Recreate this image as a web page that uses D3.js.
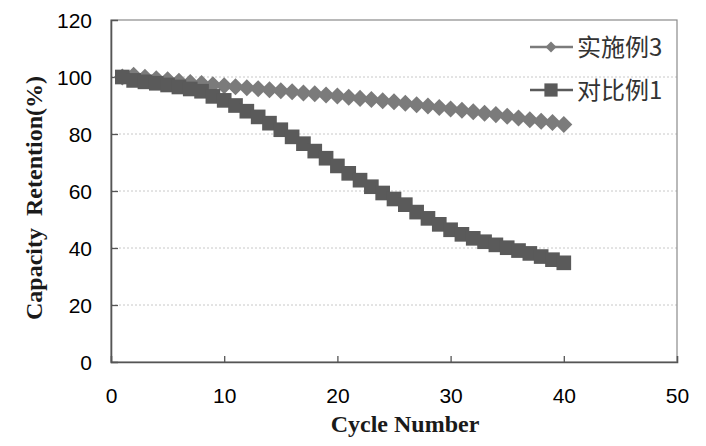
<!DOCTYPE html>
<html>
<head>
<meta charset="utf-8">
<script src="https://cdn.jsdelivr.net/npm/d3@7"></script>
<style>
  html, body { margin: 0; padding: 0; background: #fff; }
  svg { display: block; }
</style>
</head>
<body>
<svg id="chart" width="706" height="446"></svg>
<script>
// ---- data ----
const cycles = d3.range(1, 41);
const seriesNames = ["实施例3", "对比例1"];
const example3 = [100, 100.6, 99.9, 99.4, 99.0, 98.5, 98.1, 97.7, 97.3, 96.9,
                  96.6, 96.2, 95.9, 95.5, 95.2, 94.8, 94.4, 94.1, 93.7, 93.3,
                  92.9, 92.5, 92.1, 91.7, 91.3, 90.8, 90.3, 89.8, 89.3, 88.8,
                  88.3, 87.8, 87.3, 86.8, 86.2, 85.6, 85.0, 84.5, 84.0, 83.3];
const compare1 = [100, 98.8, 98.3, 97.8, 97.2, 96.5, 95.8, 95.0, 93.2, 91.8,
                  90.0, 88.0, 86.0, 83.8, 81.5, 79.0, 76.6, 74.0, 71.5, 68.8,
                  66.2, 63.8, 61.5, 59.3, 57.2, 55.2, 52.6, 50.4, 48.3, 46.4,
                  44.8, 43.4, 42.2, 41.1, 40.1, 39.1, 38.1, 37.0, 35.9, 34.8];
const xTicks = [0, 10, 20, 30, 40, 50];
const yTicks = [0, 20, 40, 60, 80, 100, 120];
const xTitle = "Cycle Number";
const yTitle = "Capacity\u00a0\u00a0Retention(%)";

// ---- layout ----
const svg = d3.select("#chart");
const L = 111, R = 677, T = 20, B = 362;
const x = d3.scaleLinear().domain([0, 50]).range([L, R]);
const y = d3.scaleLinear().domain([0, 120]).range([B, T]);

// gridlines
svg.append("g").selectAll("line").data(yTicks.filter(d => d > 0 && d < 120)).join("line")
  .attr("x1", L).attr("x2", R).attr("y1", d => y(d)).attr("y2", d => y(d))
  .attr("stroke", "#c8c8c8").attr("stroke-width", 1).attr("stroke-dasharray", "2,2");

// plot border (top/right)
svg.append("rect").attr("x", L).attr("y", T).attr("width", R - L).attr("height", B - T)
  .attr("fill", "none").attr("stroke", "#8a8a8a").attr("stroke-width", 1.2);

// axes
const xAxis = svg.append("g").attr("transform", `translate(0,${B})`)
  .call(d3.axisBottom(x).tickValues(xTicks).tickSize(-6).tickPadding(26).tickFormat(d3.format("d")));
const yAxis = svg.append("g").attr("transform", `translate(${L},0)`)
  .call(d3.axisLeft(y).tickValues(yTicks).tickSize(-7).tickPadding(19).tickFormat(d3.format("d")));
[xAxis, yAxis].forEach(a => {
  a.select(".domain").attr("stroke", "#555").attr("stroke-width", 1.6);
  a.selectAll(".tick line").attr("stroke", "#555").attr("stroke-width", 1.3);
  a.selectAll(".tick text").attr("fill", "#000")
    .style("font-family", "'Liberation Sans', Arial, sans-serif").style("font-size", "21px");
});
xAxis.selectAll(".tick").filter(d => d === 0 || d === 50).select("line").remove();
yAxis.selectAll(".tick").filter(d => d === 0 || d === 120).select("line").remove();
yAxis.selectAll(".tick text").attr("dy", "0.36em");
xAxis.selectAll(".tick text").attr("dy", "0.71em");

// series
const data = [
  { name: seriesNames[0], values: example3, color: "#7b7b7b", shape: "diamond" },
  { name: seriesNames[1], values: compare1, color: "#5a5a5a", shape: "square" }
];
const diamond = d3.symbol().type(d3.symbolSquare).size(145);
const square = d3.symbol().type(d3.symbolSquare).size(215);
const line = d3.line().x((d, i) => x(cycles[i])).y(d => y(d));

data.forEach(s => {
  const g = svg.append("g");
  g.append("path").attr("d", line(s.values)).attr("fill", "none")
    .attr("stroke", s.color).attr("stroke-width", 2.5);
  g.selectAll("path.m").data(s.values).join("path").attr("class", "m")
    .attr("d", s.shape === "diamond" ? diamond : square)
    .attr("transform", (d, i) => `translate(${x(cycles[i])},${y(d)})` + (s.shape === "diamond" ? " rotate(45)" : ""))
    .attr("fill", s.color);
});

// legend
const legY = [47, 90];
data.forEach((s, i) => {
  const g = svg.append("g").attr("transform", `translate(0,${legY[i]})`);
  g.append("line").attr("x1", 530).attr("x2", 573).attr("y1", 0).attr("y2", 0)
    .attr("stroke", s.color).attr("stroke-width", 2.5);
  g.append("path").attr("d", s.shape === "diamond" ? d3.symbol().type(d3.symbolSquare).size(60) : d3.symbol().type(d3.symbolSquare).size(175))
    .attr("transform", `translate(551,0)` + (s.shape === "diamond" ? " rotate(45)" : ""))
    .attr("fill", s.color);
  g.append("text").attr("x", 577).attr("y", 0).attr("dy", "0.36em")
    .attr("fill", "#333")
    .style("font-family", "'Noto Sans CJK SC', sans-serif").style("font-size", "24px")
    .text(s.name);
});

// titles
svg.append("text").attr("x", (L + R) / 2 + 11).attr("y", 423).attr("dy", "0.36em")
  .attr("text-anchor", "middle").attr("fill", "#1a1a1a")
  .style("font-family", "'Liberation Serif', 'Times New Roman', serif")
  .style("font-weight", "bold").style("font-size", "24px").text(xTitle);
svg.append("text").attr("transform", `translate(33,${198}) rotate(-90)`).attr("dy", "0.36em")
  .attr("text-anchor", "middle").attr("fill", "#1a1a1a")
  .style("font-family", "'Liberation Serif', 'Times New Roman', serif")
  .style("font-weight", "bold").style("font-size", "24px").text(yTitle);
</script>
</body>
</html>
